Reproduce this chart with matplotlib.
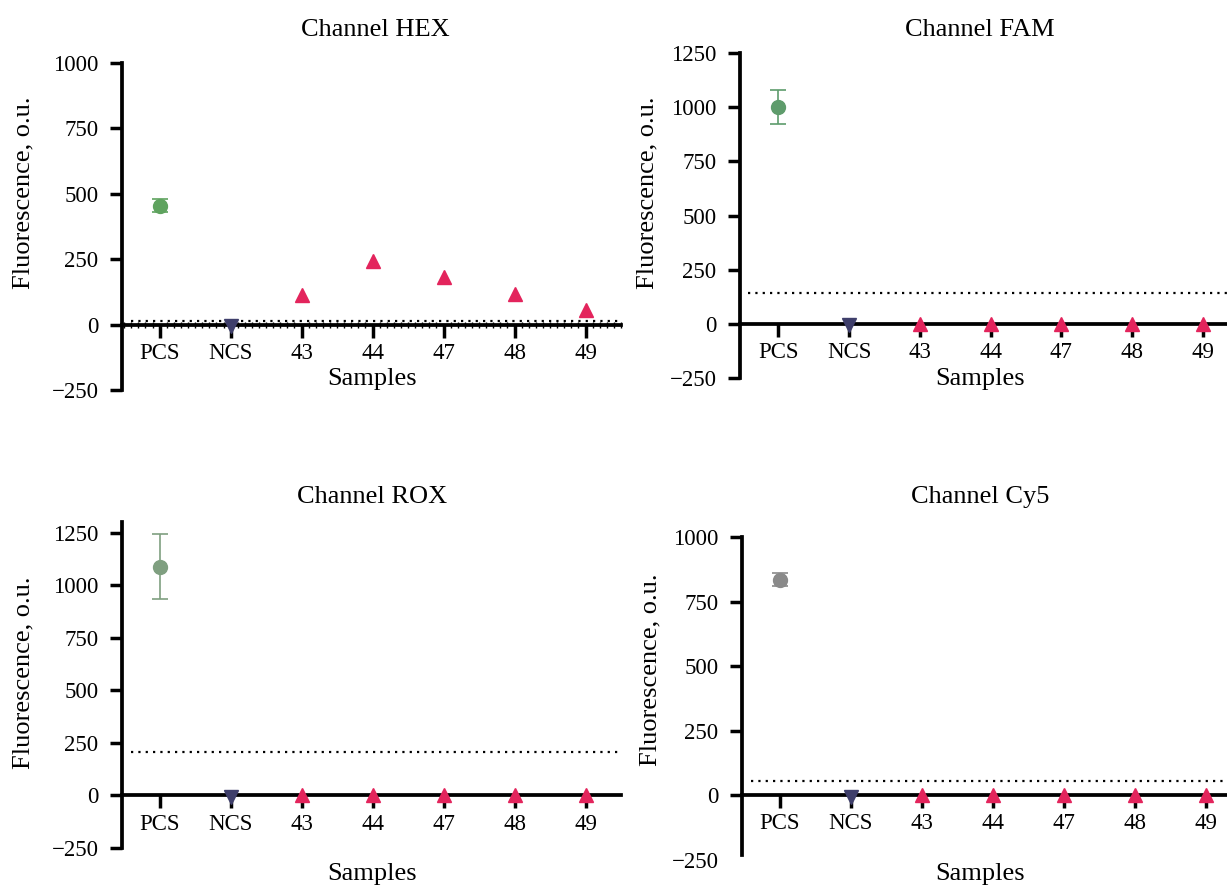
import numpy as np
import matplotlib
matplotlib.use("Agg")
import matplotlib.pyplot as plt
from matplotlib.ticker import MultipleLocator

plt.rcParams['font.family'] = ['Liberation Serif', 'DejaVu Serif']

# data
samples = ["PCS", "NCS", "43", "44", "47", "48", "49"]
channels = ["HEX", "FAM", "ROX", "Cy5"]

pcs_mean = [455, 1000, 1090, 835]
pcs_err = [25, 78, 155, 25]
ncs_mean = [-5, -5, -5, -5]
hex_samples = [115, 242, 181, 117, 54]
fam_samples = [0, 0, 0, 0, 0]
rox_samples = [0, 0, 0, 0, 0]
cy5_samples = [0, 0, 0, 0, 0]
thresholds = [15, 143, 207, 54]

sample_vals = [hex_samples, fam_samples, rox_samples, cy5_samples]
pcs_colors = ["#5fa35f", "#5e9c6c", "#7f9f80", "#8a8a8a"]
ncs_color = "#3f3f6b"
sample_color = "#e3245c"

W, H = 1227, 886
fig = plt.figure(figsize=(W / 100, H / 100), dpi=100)

# panel geometry in pixels
panels = [
    dict(l=122, r=621, t=63, b=390, ylim=(-250, 1000), xlim=(-0.53, 6.5)),
    dict(l=740, r=1227, t=53, b=378, ylim=(-250, 1250), xlim=(-0.54, 6.34)),
    dict(l=122, r=621, t=522, b=848, ylim=(-250, 1302), xlim=(-0.53, 6.5)),
    dict(l=742, r=1227, t=537, b=860, ylim=(-250, 1000), xlim=(-0.53, 6.3)),
]
title_pos = [(375, 30), (980, 30), (372, 497), (980, 497)]
xlabel_pos = [(372, 379), (980, 379), (372, 874), (980, 874)]
ylabel_pos = [(23, 193), (647, 193), (23, 673), (650, 670)]

x = np.arange(len(samples))
tick_fs = 16.5
lab_fs = 19

for i, ch in enumerate(channels):
    p = panels[i]
    ax = fig.add_axes([p['l'] / W, 1 - p['b'] / H, (p['r'] - p['l']) / W, (p['b'] - p['t']) / H])
    ax.set_xlim(*p['xlim'])
    ax.set_ylim(*p['ylim'])

    for s in ['top', 'right']:
        ax.spines[s].set_visible(False)
    ax.spines['bottom'].set_position(('data', 0))
    ax.spines['left'].set_linewidth(2.7)
    ax.spines['bottom'].set_linewidth(2.7)

    ymax = 1250 if p['ylim'][1] > 1000 else 1000
    yt = np.arange(-250, ymax + 1, 250)
    ax.set_yticks(yt)
    ax.set_yticklabels([("\u2212250" if v < 0 else str(v)) for v in yt])
    ax.set_xticks(x)
    ax.set_xticklabels(samples)
    ax.tick_params(axis='y', direction='out', length=9, width=2.5, labelsize=tick_fs, pad=8)
    ax.tick_params(axis='x', direction='out', length=9, width=2.5, labelsize=tick_fs, pad=4)

    if ch == "HEX":
        ax.xaxis.set_minor_locator(MultipleLocator(0.1))
        ax.tick_params(axis='x', which='minor', direction='inout', length=5, width=1.0)
    if ch == "Cy5":
        ax.spines['left'].set_bounds(-232, 1000)
        ax.yaxis.get_major_ticks()[0].tick1line.set_visible(False)

    # threshold line
    ax.plot([p['xlim'][0] + 0.12, p['xlim'][1]], [thresholds[i], thresholds[i]],
            linestyle=(0, (1, 2.3)), color='black', linewidth=1.6, zorder=1)

    # positive control with error bar
    ax.errorbar([x[0]], [pcs_mean[i]], yerr=[pcs_err[i]], fmt='o', color=pcs_colors[i],
                markersize=10, elinewidth=1.2, capsize=6, capthick=1.2, zorder=4)
    # negative control
    ax.plot([x[1]], [ncs_mean[i]], marker='v', color=ncs_color, markersize=10.5,
            linestyle='none', zorder=4, clip_on=False)
    # samples
    ax.plot(x[2:], sample_vals[i], marker='^', color=sample_color, markersize=9.5,
            linestyle='none', zorder=4, clip_on=False)

    fig.text(title_pos[i][0] / W, 1 - title_pos[i][1] / H, "Channel " + ch,
             ha='center', va='center', fontsize=lab_fs)
    fig.text(xlabel_pos[i][0] / W, 1 - xlabel_pos[i][1] / H, "Samples",
             ha='center', va='center', fontsize=lab_fs)
    fig.text(ylabel_pos[i][0] / W, 1 - ylabel_pos[i][1] / H, "Fluorescence, o.u.",
             ha='center', va='center', rotation=90, fontsize=lab_fs)

fig.savefig("out.png", dpi=100)
